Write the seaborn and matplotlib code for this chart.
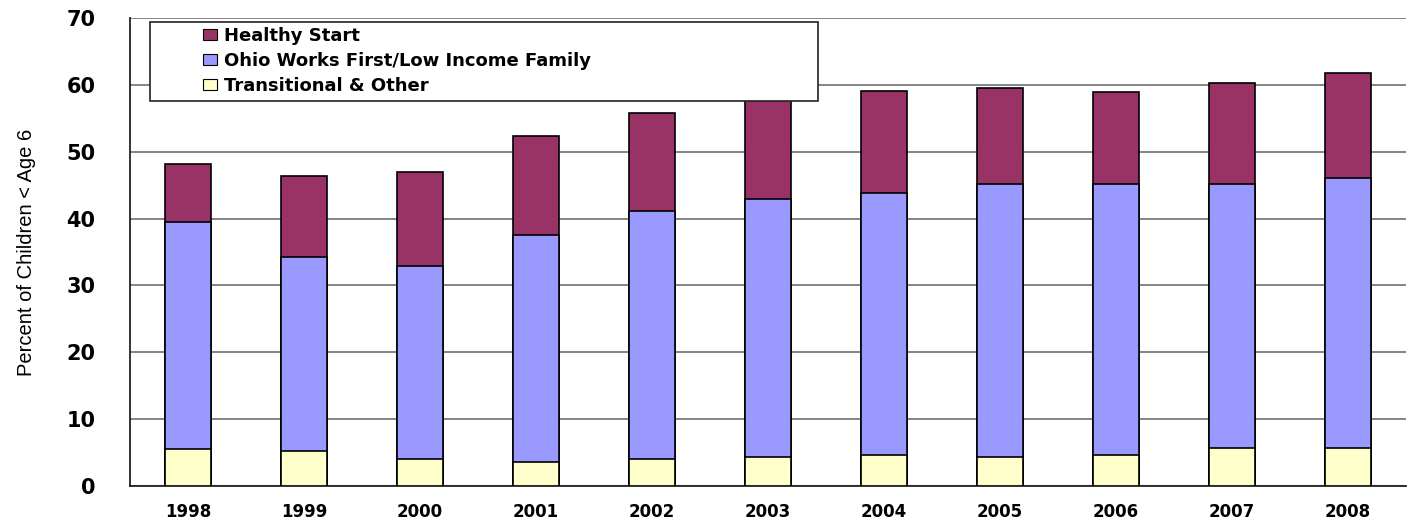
import matplotlib
matplotlib.use("Agg")
import matplotlib.pyplot as plt
import seaborn as sns
import numpy as np
import pandas as pd
from matplotlib.patches import Patch, Rectangle
from matplotlib.ticker import FixedLocator

years = ["1998", "1999", "2000", "2001", "2002", "2003", "2004", "2005", "2006", "2007", "2008"]
transitional = [5.5, 5.3, 4.1, 3.6, 4.0, 4.4, 4.7, 4.4, 4.7, 5.7, 5.7]
ohio_works = [34.0, 28.9, 28.8, 34.0, 37.1, 38.6, 39.1, 40.7, 40.4, 39.4, 40.4]
healthy_start = [8.7, 12.1, 14.1, 14.7, 14.7, 15.5, 15.3, 14.4, 13.8, 15.2, 15.7]
series_names = ["Healthy Start", "Ohio Works First/Low Income Family", "Transitional & Other"]
colors = ["#993366", "#9999FF", "#FFFFCC"]
yticks = [0, 10, 20, 30, 40, 50, 60, 70]

sns.set_style("white")
plt.rcParams["font.family"] = ["DejaVu Sans"]
for k in ["text.color", "axes.labelcolor", "xtick.color", "ytick.color"]:
    plt.rcParams[k] = "black"

df = pd.DataFrame({"year": years, "trans": transitional, "ohio": ohio_works, "healthy": healthy_start})
df["ohio_top"] = df["trans"] + df["ohio"]
df["total"] = df["ohio_top"] + df["healthy"]

fig = plt.figure(figsize=(14.08, 5.21), dpi=100)
ax = fig.add_axes([130 / 1408, 1 - 486 / 521, 1276 / 1408, 468 / 521])

for col, c in zip(["total", "ohio_top", "trans"], colors):
    sns.barplot(data=df, x="year", y=col, color=c, width=0.4, edgecolor="black",
                linewidth=1.2, saturation=1, ax=ax, zorder=3)

ax.set_xlim(-0.5, 10.5)
ax.set_ylim(0, 70)
ax.set_yticks(yticks)
ax.yaxis.grid(True, color="#707070", linewidth=1.2, zorder=0)
ax.set_axisbelow(True)
for s in ["top", "right"]:
    ax.spines[s].set_visible(False)
for s in ["left", "bottom"]:
    ax.spines[s].set_color("#222222")
    ax.spines[s].set_linewidth(1.3)

ax.tick_params(axis="y", direction="out", length=7, width=1.2, pad=18, labelsize=15, color="#222222")
for t in ax.get_yticklabels():
    t.set_fontweight("heavy")
ax.tick_params(axis="x", which="major", length=0, pad=12, labelsize=12)
for t in ax.get_xticklabels():
    t.set_fontweight("bold")
ax.xaxis.set_minor_locator(FixedLocator(np.arange(0.5, 10, 1.0)))
ax.tick_params(axis="x", which="minor", direction="out", length=5, width=1.2, color="#222222")

ax.set_xlabel("")
ax.set_ylabel("Percent of Children < Age 6", family=["Liberation Sans", "DejaVu Sans"],
              fontsize=14.5, labelpad=22)

# legend box
x0 = 20 / 1276
y0 = (486 - 101) / 468
ax.add_patch(Rectangle((x0, y0), (818 - 150) / 1276, (101 - 22) / 468, transform=ax.transAxes,
                       facecolor="white", edgecolor="#222222", linewidth=1.2, zorder=9, clip_on=False))
handles = [Patch(facecolor=c, edgecolor="black", linewidth=0.8) for c in colors]
leg = ax.legend(handles, series_names, loc="upper left",
                bbox_to_anchor=((203 - 130) / 1276, (486 - 27) / 468), frameon=False,
                prop={"weight": "bold", "size": 13}, handlelength=0.8, handleheight=0.6,
                handletextpad=0.35, labelspacing=0.38, borderaxespad=0, borderpad=0)
leg.set_zorder(10)

fig.savefig("out.png", dpi=100)
